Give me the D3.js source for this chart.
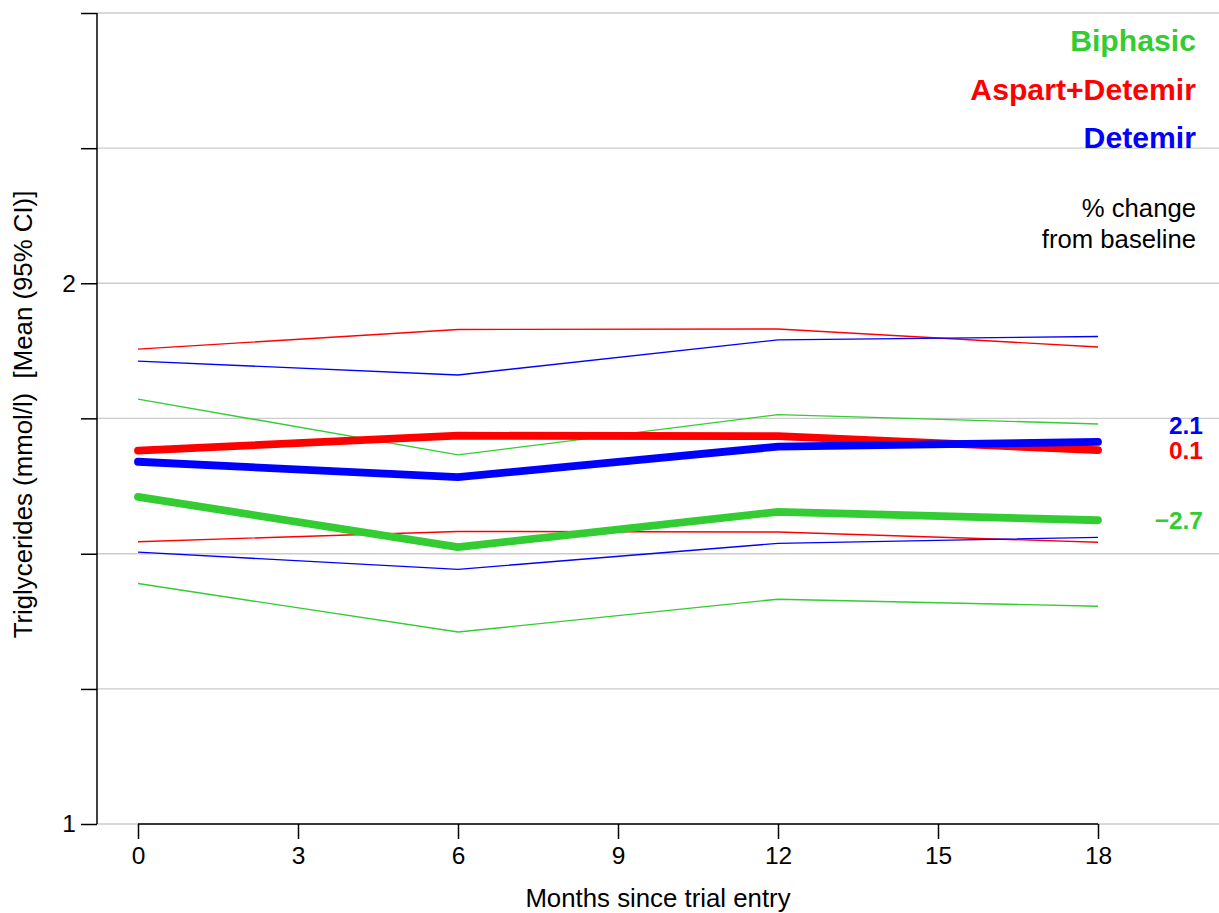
<!DOCTYPE html>
<html>
<head>
<meta charset="utf-8">
<script src="https://cdn.jsdelivr.net/npm/d3@7"></script>
<style>
  html, body { margin: 0; padding: 0; background: #fff; }
  svg { display: block; font-family: "Liberation Sans", Arial, sans-serif; }
</style>
</head>
<body>
<svg id="chart" width="1219" height="913"></svg>
<script>
// ---- Data ----
const months = [0, 6, 12, 18];
const xTicks = [0, 3, 6, 9, 12, 15, 18];
const yGridValues = [1, 1.189, 1.414, 1.682, 2, 2.378, 2.828];
const yTickLabels = ["1", "", "", "", "2", "", ""];

const groups = ["Biphasic", "Aspart+Detemir", "Detemir"];
const groupColors = ["#33cc33", "#ff0000", "#0000ff"];

const biphasicMean  = [1.521, 1.426, 1.492, 1.476];
const biphasicLower = [1.361, 1.279, 1.334, 1.322];
const biphasicUpper = [1.724, 1.605, 1.690, 1.670];

const aspartMean  = [1.614, 1.645, 1.644, 1.615];
const aspartLower = [1.436, 1.455, 1.454, 1.435];
const aspartUpper = [1.838, 1.885, 1.886, 1.843];

const detemirMean  = [1.591, 1.560, 1.622, 1.632];
const detemirLower = [1.417, 1.386, 1.433, 1.444];
const detemirUpper = [1.810, 1.778, 1.860, 1.868];

const pctChange = ["\u22122.7", "0.1", "2.1"];

// ---- Layout ----
const svg = d3.select("#chart");
const x = d3.scaleLinear().domain([0, 18]).range([138, 1098]);
const y = d3.scaleLog().base(2).domain([1, 2.828]).range([824, 13]);
const plotLeft = 97, plotRight = 1219;

// gridlines
svg.append("g").selectAll("line").data(yGridValues).join("line")
  .attr("x1", plotLeft).attr("x2", plotRight)
  .attr("y1", d => y(d)).attr("y2", d => y(d))
  .attr("stroke", "#cccccc").attr("stroke-width", 1.3);

// y axis
const yAxis = d3.axisLeft(y).tickValues(yGridValues)
  .tickFormat((d, i) => yTickLabels[i]).tickSize(16).tickPadding(5);
const gy = svg.append("g").attr("transform", `translate(${plotLeft},0)`).call(yAxis);
gy.select(".domain").attr("d", `M0,${y(2.828)}V${y(1)}`).attr("stroke", "#000").attr("stroke-width", 1.5);
gy.selectAll(".tick line").attr("stroke", "#000").attr("stroke-width", 1.5);
gy.selectAll(".tick text").attr("font-size", 24.5).attr("fill", "#000")
  .attr("font-family", "Liberation Sans, Arial, sans-serif");

// x axis
const xAxis = d3.axisBottom(x).tickValues(xTicks).tickSize(15).tickPadding(8);
const gx = svg.append("g").attr("transform", `translate(0,${y(1)})`).call(xAxis);
gx.select(".domain").attr("d", `M${x(0)},0H${x(18)}`).attr("stroke", "#000").attr("stroke-width", 1.5);
gx.selectAll(".tick line").attr("stroke", "#000").attr("stroke-width", 1.5);
gx.selectAll(".tick text").attr("font-size", 24.5).attr("fill", "#000")
  .attr("font-family", "Liberation Sans, Arial, sans-serif");

// axis titles
svg.append("text")
  .attr("x", (plotLeft + plotRight) / 2).attr("y", 907)
  .attr("text-anchor", "middle").attr("font-size", 25.8).attr("fill", "#000")
  .text("Months since trial entry");
svg.append("text")
  .attr("transform", `translate(32,${(y(1) + y(2.828)) / 2 - 4}) rotate(-90)`)
  .attr("text-anchor", "middle").attr("font-size", 25.8).attr("fill", "#000")
  .attr("xml:space", "preserve")
  .text("Triglycerides (mmol/l)  [Mean (95% CI)]");

// lines
const series = [
  { mean: biphasicMean, lower: biphasicLower, upper: biphasicUpper },
  { mean: aspartMean, lower: aspartLower, upper: aspartUpper },
  { mean: detemirMean, lower: detemirLower, upper: detemirUpper }
];
const line = d3.line().x((d, i) => x(months[i])).y(d => y(d));

const thin = svg.append("g");
series.forEach((s, gi) => {
  [s.upper, s.lower].forEach(arr => {
    thin.append("path").attr("d", line(arr)).attr("fill", "none")
      .attr("stroke", groupColors[gi]).attr("stroke-width", 1.4);
  });
});
const thick = svg.append("g");
series.forEach((s, gi) => {
  thick.append("path").attr("d", line(s.mean)).attr("fill", "none")
    .attr("stroke", groupColors[gi]).attr("stroke-width", 7.8)
    .attr("stroke-linecap", "round").attr("stroke-linejoin", "round");
});

// legend
const leg = svg.append("g");
groups.forEach((g, i) => {
  leg.append("text").attr("x", 1196).attr("y", 51 + i * 48.5)
    .attr("text-anchor", "end").attr("font-size", 30.2).attr("font-weight", "bold")
    .attr("fill", groupColors[i]).text(g);
});
leg.append("text").attr("x", 1196).attr("y", 217).attr("text-anchor", "end")
  .attr("font-size", 25.7).attr("fill", "#000").text("% change");
leg.append("text").attr("x", 1196).attr("y", 248).attr("text-anchor", "end")
  .attr("font-size", 25.7).attr("fill", "#000").text("from baseline");

// % change labels, placed at final means with overlap avoidance
const last = months.length - 1;
const lab = series.map((s, gi) => ({ gi, yy: y(s.mean[last]) }))
  .sort((a, b) => b.yy - a.yy);
for (let i = 1; i < lab.length; i++) {
  lab[i].yy = Math.min(lab[i].yy, lab[i - 1].yy - 25);
}
lab.forEach(l => {
  svg.append("text").attr("x", 1203).attr("y", l.yy)
    .attr("dy", "0.36em").attr("text-anchor", "end")
    .attr("font-size", 24.5).attr("font-weight", "bold")
    .attr("fill", groupColors[l.gi]).text(pctChange[l.gi]);
});
</script>
</body>
</html>
